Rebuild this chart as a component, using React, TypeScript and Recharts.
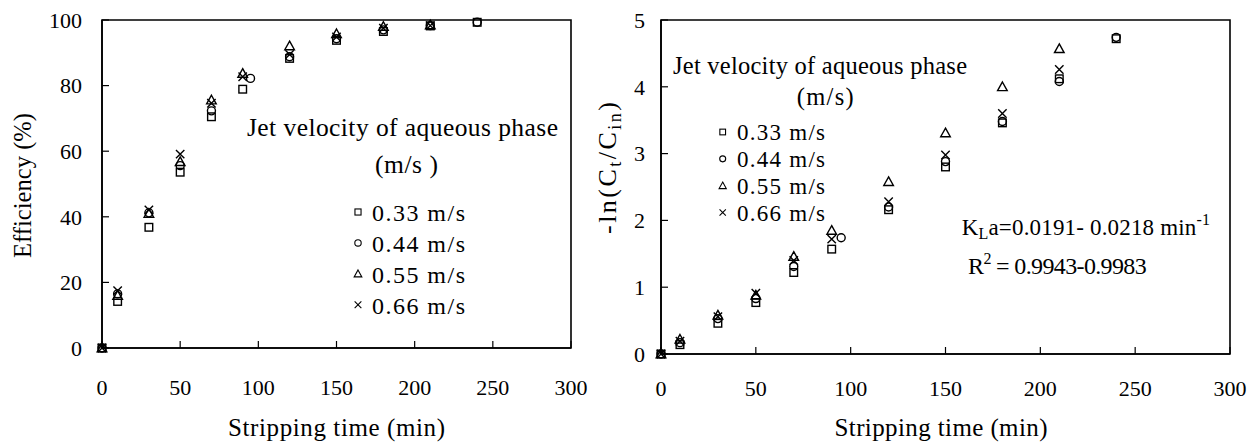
import React from 'react';
import { ScatterChart, Scatter, XAxis, YAxis, ReferenceArea, Customized } from 'recharts';

const FONT = '"Liberation Serif", "Times New Roman", serif';

// ---------- data ----------
const seriesNames = ['0.33 m/s', '0.44 m/s', '0.55 m/s', '0.66 m/s'];
const seriesShapes = ['square', 'circle', 'triangle', 'x'];

const time033 = [0, 10, 30, 50, 70, 90, 120, 150, 180, 210, 240];
const time044 = [0, 10, 30, 50, 70, 95, 120, 150, 180, 210, 240];
const time055 = [0, 10, 30, 50, 70, 90, 120, 150, 180, 210];
const time066 = [0, 10, 30, 50, 70, 90, 120, 150, 180, 210];

const eff033 = [0, 14.2, 36.8, 53.6, 70.5, 78.9, 88.3, 93.8, 96.5, 98.2, 99.3];
const eff044 = [0, 16.5, 41.2, 55.6, 72.3, 82.2, 88.8, 94.3, 97.0, 98.3, 99.3];
const eff055 = [0, 16.0, 41.0, 56.8, 75.6, 83.7, 92.1, 95.8, 98.0, 98.5];
const eff066 = [0, 17.5, 42.1, 59.1, 74.6, 82.7, 89.5, 94.8, 97.5, 98.3];

const ln033 = [0, 0.14, 0.46, 0.77, 1.22, 1.57, 2.16, 2.80, 3.46, 4.12, 4.72];
const ln044 = [0, 0.17, 0.53, 0.83, 1.31, 1.74, 2.20, 2.88, 3.48, 4.08, 4.74];
const ln055 = [0, 0.22, 0.58, 0.88, 1.46, 1.85, 2.58, 3.31, 4.00, 4.57];
const ln066 = [0, 0.19, 0.56, 0.91, 1.40, 1.72, 2.28, 2.98, 3.60, 4.26];

const xTicks = [0, 50, 100, 150, 200, 250, 300];
const effTicks = [0, 20, 40, 60, 80, 100];
const lnTicks = [0, 1, 2, 3, 4, 5];

const times = [time033, time044, time055, time066];
const effs = [eff033, eff044, eff055, eff066];
const lns = [ln033, ln044, ln055, ln066];

const zip = (xs: number[], ys: number[]) => xs.map((x, i) => ({ x, y: ys[i] }));
const effData = times.map((t, i) => zip(t, effs[i]));
const lnData = times.map((t, i) => zip(t, lns[i]));

// ---------- marks ----------
function Marker({ kind, cx, cy, s = 1, sw = 1.4 }: any) {
  const st = { fill: 'none', stroke: '#000', strokeWidth: sw };
  if (cx == null || cy == null) return null;
  if (kind === 'square') {
    const h = 3.8 * s;
    return <rect x={cx - h} y={cy - h} width={2 * h} height={2 * h} {...st} />;
  }
  if (kind === 'circle') return <circle cx={cx} cy={cy} r={4 * s} {...st} />;
  if (kind === 'triangle') {
    const a = 4.8 * s;
    return <path d={`M${cx},${cy - a}L${cx + a},${cy + a * 0.8}L${cx - a},${cy + a * 0.8}Z`} {...st} />;
  }
  const h = 4.2 * s;
  return <path d={`M${cx - h},${cy - h}L${cx + h},${cy + h}M${cx + h},${cy - h}L${cx - h},${cy + h}`} {...st} />;
}

function T({ x, y, w, size = 22, anchor = 'start', rot = false, children }: any) {
  return (
    <text
      x={x}
      y={y}
      fontFamily={FONT}
      fontSize={size}
      fill="#000"
      textAnchor={anchor}
      textLength={w}
      lengthAdjust="spacing"
      transform={rot ? `rotate(-90 ${x} ${y})` : undefined}
    >
      {children}
    </text>
  );
}

const tickStyle = { fill: '#000', fontSize: 22, fontFamily: FONT };

function LeftOverlay() {
  return (
    <g>
      <T x={31} y={185.5} w={145} size={24.5} anchor="middle" rot>Efficiency (%)</T>
      <T x={336.5} y={436} w={217} size={25} anchor="middle">Stripping time (min)</T>
      <T x={247} y={135.5} w={311} size={25.5}>Jet velocity of aqueous phase</T>
      <T x={375} y={173} w={63} size={25.5}>(m/s )</T>
      {seriesNames.map((n, i) => (
        <g key={n}>
          <Marker kind={seriesShapes[i]} cx={358} cy={212 + i * 30.9} s={0.8} sw={1.1} />
          <T x={372} y={221 + i * 30.9} w={93} size={24}>{n}</T>
        </g>
      ))}
    </g>
  );
}

const RX = 570; // page x of right chart

function RightOverlay() {
  return (
    <g>
      <T x={616 - RX} y={168} w={132} size={26} anchor="middle" rot>
        -ln(C<tspan dy={5} fontSize={18}>t</tspan>
        <tspan dy={-5}>/C</tspan>
        <tspan dy={5} fontSize={18}>in</tspan>
        <tspan dy={-5}>)</tspan>
      </T>
      <T x={941 - RX} y={436} w={213} size={25} anchor="middle">Stripping time (min)</T>
      <T x={673 - RX} y={74} w={294} size={24.5}>Jet velocity of aqueous phase</T>
      <T x={796.7 - RX} y={105} w={57} size={24.5}>(m/s)</T>
      {seriesNames.map((n, i) => (
        <g key={n}>
          <Marker kind={seriesShapes[i]} cx={722.7 - RX} cy={132 + i * 26.85} s={0.75} sw={1.1} />
          <T x={737 - RX} y={140 + i * 26.85} w={88} size={23}>{n}</T>
        </g>
      ))}
      <T x={961.7 - RX} y={235} w={248.3} size={23}>
        K<tspan dy={4} fontSize={16}>L</tspan>
        <tspan dy={-4}>{'a=0.0191- 0.0218 min'}</tspan>
        <tspan dy={-10} fontSize={16}>-1</tspan>
      </T>
      <T x={968 - RX} y={274} w={178.7} size={24}>
        R<tspan dy={-10} fontSize={16}>2</tspan>
        <tspan dy={10}>{' = 0.9943-0.9983'}</tspan>
      </T>
    </g>
  );
}

export default function App() {
  return (
    <div style={{ position: 'absolute', left: 0, top: 0, width: 1255, height: 446, background: '#fff' }}>
      <div style={{ position: 'absolute', left: 0, top: 0 }}>
        <ScatterChart width={600} height={446} margin={{ top: 20, right: 29, bottom: 0, left: 0 }}>
          <XAxis
            type="number"
            dataKey="x"
            domain={[0, 300]}
            ticks={xTicks}
            interval={0}
            height={98}
            tickSize={-7}
            tickMargin={38}
            tick={tickStyle}
            axisLine={{ stroke: '#000', strokeWidth: 1.6 }}
            tickLine={{ stroke: '#000', strokeWidth: 1.2 }}
          />
          <YAxis
            type="number"
            dataKey="y"
            domain={[0, 100]}
            ticks={effTicks}
            interval={0}
            width={102}
            tickSize={-7}
            tickMargin={27}
            tick={tickStyle}
            axisLine={{ stroke: '#000', strokeWidth: 1.6 }}
            tickLine={{ stroke: '#000', strokeWidth: 1.2 }}
          />
          <ReferenceArea x1={0} x2={300} y1={0} y2={100} fill="none" stroke="#000" strokeWidth={1.6} />
          {effData.map((d, i) => (
            <Scatter
              key={seriesNames[i]}
              name={seriesNames[i]}
              data={d}
              isAnimationActive={false}
              shape={(p: any) => <Marker kind={seriesShapes[i]} cx={p.cx} cy={p.cy} />}
            />
          ))}
          <Customized component={<LeftOverlay />} />
        </ScatterChart>
      </div>
      <div style={{ position: 'absolute', left: RX, top: 0 }}>
        <ScatterChart width={1255 - RX} height={446} margin={{ top: 20, right: 25, bottom: 0, left: 0 }}>
          <XAxis
            type="number"
            dataKey="x"
            domain={[0, 300]}
            ticks={xTicks}
            interval={0}
            height={92}
            tickSize={-7}
            tickMargin={33}
            tick={tickStyle}
            axisLine={{ stroke: '#000', strokeWidth: 1.6 }}
            tickLine={{ stroke: '#000', strokeWidth: 1.2 }}
          />
          <YAxis
            type="number"
            dataKey="y"
            domain={[0, 5]}
            ticks={lnTicks}
            interval={0}
            width={661 - RX}
            tickSize={-7}
            tickMargin={23}
            tick={tickStyle}
            axisLine={{ stroke: '#000', strokeWidth: 1.6 }}
            tickLine={{ stroke: '#000', strokeWidth: 1.2 }}
          />
          <ReferenceArea x1={0} x2={300} y1={0} y2={5} fill="none" stroke="#000" strokeWidth={1.6} />
          {lnData.map((d, i) => (
            <Scatter
              key={seriesNames[i]}
              name={seriesNames[i]}
              data={d}
              isAnimationActive={false}
              shape={(p: any) => <Marker kind={seriesShapes[i]} cx={p.cx} cy={p.cy} />}
            />
          ))}
          <Customized component={<RightOverlay />} />
        </ScatterChart>
      </div>
    </div>
  );
}
